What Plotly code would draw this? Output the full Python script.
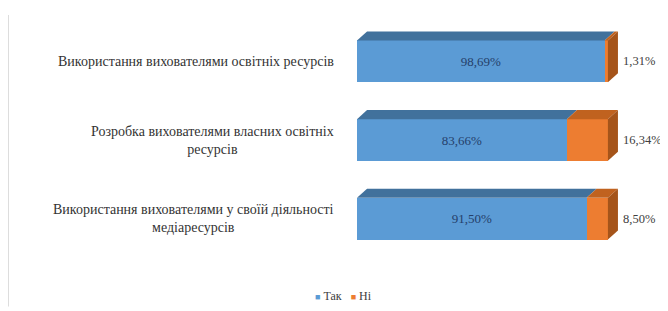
import plotly.graph_objects as go

categories = [
    "Використання вихователями освітніх ресурсів",
    "Розробка вихователями власних освітніх<br>ресурсів",
    "Використання вихователями у своїй діяльності<br>медіаресурсів",
]
yes_values = [98.69, 83.66, 91.50]
no_values = [1.31, 16.34, 8.50]
series_names = ["Так", "Ні"]

BLUE = "#5B9BD5"
ORANGE = "#ED7D31"
BLUE_TOP = "#41719C"
ORANGE_TOP = "#C0621F"
ORANGE_SIDE = "#A5541A"
FONT = "Liberation Serif, Times New Roman, serif"

def fmt(v):
    return f"{v:.2f}".replace(".", ",") + "%"

n = len(categories)
ypos = [n - 1 - i for i in range(n)]
bw = 0.53
dx = 4.0
dy = 0.115

W, H = 660, 303
ML, MR, MT, MB = 349, 35, 14, 52.5
PW = W - ML - MR
PH = H - MT - MB

fig = go.Figure()
fig.add_trace(go.Bar(
    y=ypos, x=yes_values, orientation="h", name=series_names[0],
    marker=dict(color=BLUE, line=dict(width=0)), width=bw,
    text=[fmt(v) for v in yes_values], textposition="inside",
    insidetextanchor="middle",
    textfont=dict(family=FONT, size=13, color="#25406A"),
    showlegend=False,
))
fig.add_trace(go.Bar(
    y=ypos, x=no_values, orientation="h", name=series_names[1],
    marker=dict(color=ORANGE, line=dict(width=0)), width=bw,
    textposition="none", showlegend=False,
))

shapes = []
annotations = []
for i in range(n):
    y = ypos[i]
    yt = y + bw / 2
    yb = y - bw / 2
    a = yes_values[i]
    tot = yes_values[i] + no_values[i]
    shapes.append(dict(type="path", xref="x", yref="y",
        path=f"M 0 {yt} L {a} {yt} L {a+dx} {yt+dy} L {dx} {yt+dy} Z",
        fillcolor=BLUE_TOP, line=dict(width=0), layer="above"))
    shapes.append(dict(type="path", xref="x", yref="y",
        path=f"M {a} {yt} L {tot} {yt} L {tot+dx} {yt+dy} L {a+dx} {yt+dy} Z",
        fillcolor=ORANGE_TOP, line=dict(width=0), layer="above"))
    shapes.append(dict(type="path", xref="x", yref="y",
        path=f"M {tot} {yb} L {tot} {yt} L {tot+dx} {yt+dy} L {tot+dx} {yb+dy} Z",
        fillcolor=ORANGE_SIDE, line=dict(width=0), layer="above"))
    annotations.append(dict(
        x=0, y=y, xref="x", yref="y", text=categories[i],
        xanchor="right", yanchor="middle", align="center", xshift=-21,
        showarrow=False,
        font=dict(family=FONT, size=14, color="#333333"),
    ))
    annotations.append(dict(
        x=tot + dx, y=y, xref="x", yref="y", text=fmt(no_values[i]),
        xanchor="left", yanchor="middle", xshift=3, showarrow=False,
        font=dict(family=FONT, size=12.5, color="#404040"),
    ))

# legend drawn as text with coloured squares
annotations.append(dict(
    x=(335 - ML) / PW, y=(MT + PH - 289) / PH, xref="paper", yref="paper",
    xanchor="center", yanchor="middle", showarrow=False,
    text=(f"<span style='color:{BLUE};font-size:9px'>■</span> {series_names[0]}   "
          f"<span style='color:{ORANGE};font-size:9px'>■</span> {series_names[1]}"),
    font=dict(family=FONT, size=12, color="#404040"),
))

# left border line of the picture
shapes.append(dict(type="line", xref="paper", yref="paper",
    x0=-ML / PW, x1=-ML / PW,
    y0=(MT + PH - 299) / PH, y1=(MT + PH - 7) / PH,
    line=dict(color="#DDDDDD", width=2)))

fig.update_layout(
    width=W, height=H,
    margin=dict(l=ML, r=MR, t=MT, b=MB, autoexpand=False),
    paper_bgcolor="white", plot_bgcolor="white",
    barmode="stack",
    showlegend=False,
    xaxis=dict(range=[0, 110], visible=False, fixedrange=True),
    yaxis=dict(range=[-0.5, n - 0.5], visible=False, fixedrange=True),
    shapes=shapes, annotations=annotations,
)

fig.write_html("out.html")
